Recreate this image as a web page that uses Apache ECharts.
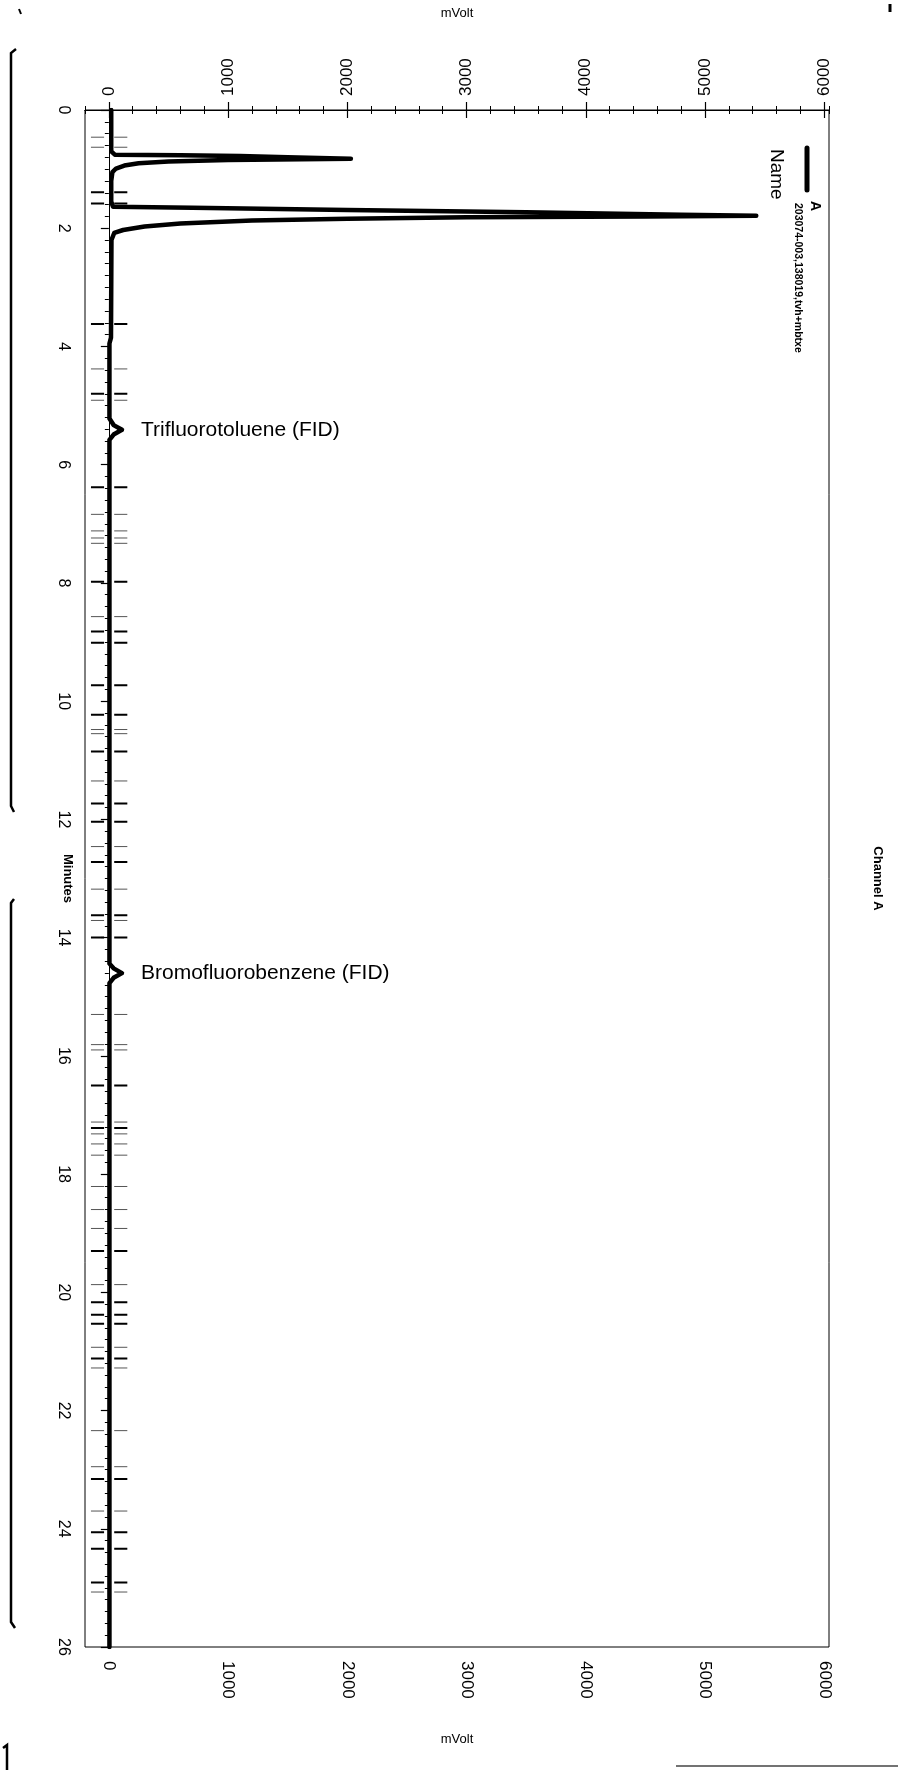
<!DOCTYPE html>
<html>
<head>
<meta charset="utf-8">
<script src="https://cdn.jsdelivr.net/npm/echarts@6/dist/echarts.min.js"></script>
<style>
html,body{margin:0;padding:0;background:#fff;}
#chart{width:898px;height:1770px;}
</style>
</head>
<body>
<div id="chart"></div>
<script>
// ---- data ----
const mvTickLabels = [0, 1000, 2000, 3000, 4000, 5000, 6000];
const traceMinutes = [0, 0.70, 0.755, 0.765, 0.78, 0.80, 0.825, 0.845, 0.87, 0.90, 0.94, 0.99, 1.05, 1.20,
  1.55, 1.635, 1.655, 1.69, 1.73, 1.77, 1.79, 1.80, 1.815, 1.84, 1.87, 1.92, 1.97, 2.03, 2.08, 2.20,
  3.85, 3.95, 5.22, 5.33, 5.41, 5.49, 5.58, 14.44, 14.52, 14.60, 14.68, 14.77, 26];
const traceMv = [20, 20, 50, 600, 1100, 1500, 2030, 1000, 500, 250, 130, 60, 30, 20,
  20, 35, 700, 2000, 3500, 4800, 5430, 4500, 3000, 2000, 1200, 600, 300, 120, 45, 22,
  18, 5, 5, 40, 110, 40, 5, 5, 40, 110, 40, 5, 5];
const markTimesBold = [1.39, 1.58, 3.62, 4.80, 6.38, 7.98, 8.82, 9.01, 9.73, 10.23, 10.85, 11.73, 12.04, 12.72, 13.62, 14.00, 16.50, 17.22, 19.30, 20.17, 20.38, 20.53, 21.12, 23.16, 24.06, 24.34, 24.91];
const markTimesThin = [0.46, 0.63, 4.38, 4.91, 6.84, 7.12, 7.24, 7.33, 8.57, 10.48, 10.55, 11.35, 12.46, 13.18, 13.71, 15.30, 15.81, 15.90, 17.12, 17.32, 17.49, 17.68, 18.21, 18.60, 18.92, 19.87, 20.93, 21.28, 22.34, 22.95, 23.70, 25.07];
const markLeftMv = [-150, -40];
const markRightMv = [45, 155];
const peakLabels = [
  { name: 'Trifluorotoluene (FID)', minute: 5.41, mv: 110 },
  { name: 'Bromofluorobenzene (FID)', minute: 14.60, mv: 110 }
];
const legendSample = '203074-003,138019,tvh+mbtxe';

// ---- build series data ----
const trace = traceMinutes.map((m, i) => [traceMv[i], m]);
function marks(times) {
  const out = [];
  times.forEach(t => {
    out.push([markLeftMv[0], t], [markLeftMv[1], t], ['-', '-']);
    out.push([markRightMv[0], t], [markRightMv[1], t], ['-', '-']);
  });
  return out;
}

const FONT = 'Liberation Sans';
const chart = echarts.init(document.getElementById('chart'), null, { renderer: 'canvas' });

function xAxisMinor(pos) {
  return {
    type: 'value', position: pos, min: -200, max: 6040, interval: 200,
    axisLine: { show: true, lineStyle: { color: '#000', width: 1 } },
    axisTick: { show: true, length: 4, inside: false, lineStyle: { color: '#000' } },
    axisLabel: { show: false }, splitLine: { show: false }
  };
}
function xAxisMajor(pos, name, gap) {
  return {
    type: 'value', position: pos, min: -200, max: 6040,
    name: name, nameLocation: 'middle', nameGap: gap, nameMoveOverlap: false,
    nameTextStyle: { fontFamily: FONT, fontSize: 13, color: '#000' },
    axisLine: { show: false },
    axisTick: { show: true, length: 8, customValues: mvTickLabels, lineStyle: { color: '#000', width: 1.2 } },
    axisLabel: { show: true, customValues: mvTickLabels, rotate: -90, margin: 14, fontFamily: FONT, fontSize: 17, color: '#000',
      formatter: v => String(v) },
    splitLine: { show: false }
  };
}

chart.setOption({
  animation: false,
  backgroundColor: '#fff',
  grid: { left: 85, right: 69, top: 110, bottom: 123, show: true, borderColor: '#000', borderWidth: 1, containLabel: false },
  xAxis: [
    xAxisMinor('bottom'),
    xAxisMajor('bottom', 'mVolt', 86),
    xAxisMinor('top'),
    xAxisMajor('top', 'mVolt', 90)
  ],
  yAxis: [
    {
      type: 'value', position: 'left', inverse: true, min: 0, max: 26, interval: 2,
      name: 'Minutes', nameLocation: 'middle', nameGap: 11, nameRotate: -90, nameMoveOverlap: false,
      nameTextStyle: { fontFamily: FONT, fontSize: 13, fontWeight: 'bold', color: '#000' },
      axisLine: { show: true, lineStyle: { color: '#000' } },
      axisTick: { show: true, length: 8, lineStyle: { color: '#000', width: 1.2 } },
      minorTick: { show: true, splitNumber: 10, length: 4, lineStyle: { color: '#000' } },
      axisLabel: { rotate: -90, margin: 14, fontFamily: FONT, fontSize: 16, color: '#000' },
      splitLine: { show: false }
    },
    {
      type: 'value', position: 'right', inverse: true, min: 0, max: 26,
      name: 'Channel A', nameLocation: 'middle', nameGap: 42, nameRotate: -90, nameMoveOverlap: false,
      nameTextStyle: { fontFamily: FONT, fontSize: 13, fontWeight: 'bold', color: '#000' },
      axisLine: { show: true, lineStyle: { color: '#000' } },
      axisTick: { show: false }, axisLabel: { show: false }, splitLine: { show: false }
    }
  ],
  series: [
    {
      type: 'line', name: 'marksThin', xAxisIndex: 0, yAxisIndex: 0,
      data: marks(markTimesThin), showSymbol: false, symbol: 'none', connectNulls: false,
      lineStyle: { color: '#555', width: 1 }, silent: true, z: 2
    },
    {
      type: 'line', name: 'marksBold', xAxisIndex: 0, yAxisIndex: 0,
      data: marks(markTimesBold), showSymbol: false, symbol: 'none', connectNulls: false,
      lineStyle: { color: '#000', width: 2 }, silent: true, z: 2
    },
    {
      type: 'line', name: 'A', xAxisIndex: 0, yAxisIndex: 0,
      data: trace, showSymbol: false, symbol: 'none',
      lineStyle: { color: '#000', width: 4.5, join: 'round', cap: 'round' }, z: 3
    },
    {
      type: 'scatter', name: 'peaks', xAxisIndex: 0, yAxisIndex: 0,
      data: peakLabels.map(p => ({ name: p.name, value: [p.mv, p.minute] })),
      symbolSize: 0, itemStyle: { opacity: 1 },
      label: { show: true, position: 'right', distance: 19, formatter: '{b}', fontFamily: FONT, fontSize: 21, color: '#000', opacity: 1 },
      emphasis: { disabled: true },
      z: 4
    }
  ],
  graphic: [
    // legend (rotated like the scanned page)
    { type: 'line', shape: { x1: 807, y1: 148, x2: 807, y2: 190 }, style: { stroke: '#000', lineWidth: 5, lineCap: 'round' } },
    { type: 'text', x: 815, y: 201, rotation: -Math.PI / 2, style: { text: 'A', font: 'bold 14px "Liberation Sans"', fill: '#000', textAlign: 'left', textVerticalAlign: 'middle' } },
    { type: 'text', x: 798, y: 203, rotation: -Math.PI / 2, style: { text: legendSample, font: 'bold 10.5px "Liberation Sans"', fill: '#000', textAlign: 'left', textVerticalAlign: 'middle' } },
    { type: 'text', x: 776, y: 149, rotation: -Math.PI / 2, style: { text: 'Name', font: '19px "Liberation Sans"', fill: '#000', textAlign: 'left', textVerticalAlign: 'middle' } },
    // scan edge marks
    { type: 'polyline', shape: { points: [[16, 49], [11, 53], [11, 806], [14, 812]] }, style: { stroke: '#000', lineWidth: 2.5, fill: null } },
    { type: 'polyline', shape: { points: [[14, 899], [11, 903], [11, 1622], [15, 1628]] }, style: { stroke: '#000', lineWidth: 2.5, fill: null } },
    { type: 'polyline', shape: { points: [[3, 1748], [7, 1745], [7, 1770]] }, style: { stroke: '#000', lineWidth: 2.5, fill: null } },
    { type: 'line', shape: { x1: 676, y1: 1766, x2: 898, y2: 1766 }, style: { stroke: '#444', lineWidth: 1.5 } },
    { type: 'line', shape: { x1: 890, y1: 4, x2: 890, y2: 12 }, style: { stroke: '#000', lineWidth: 3 } },
    { type: 'line', shape: { x1: 19, y1: 9, x2: 21, y2: 14 }, style: { stroke: '#000', lineWidth: 2 } }
  ]
});
</script>
</body>
</html>
